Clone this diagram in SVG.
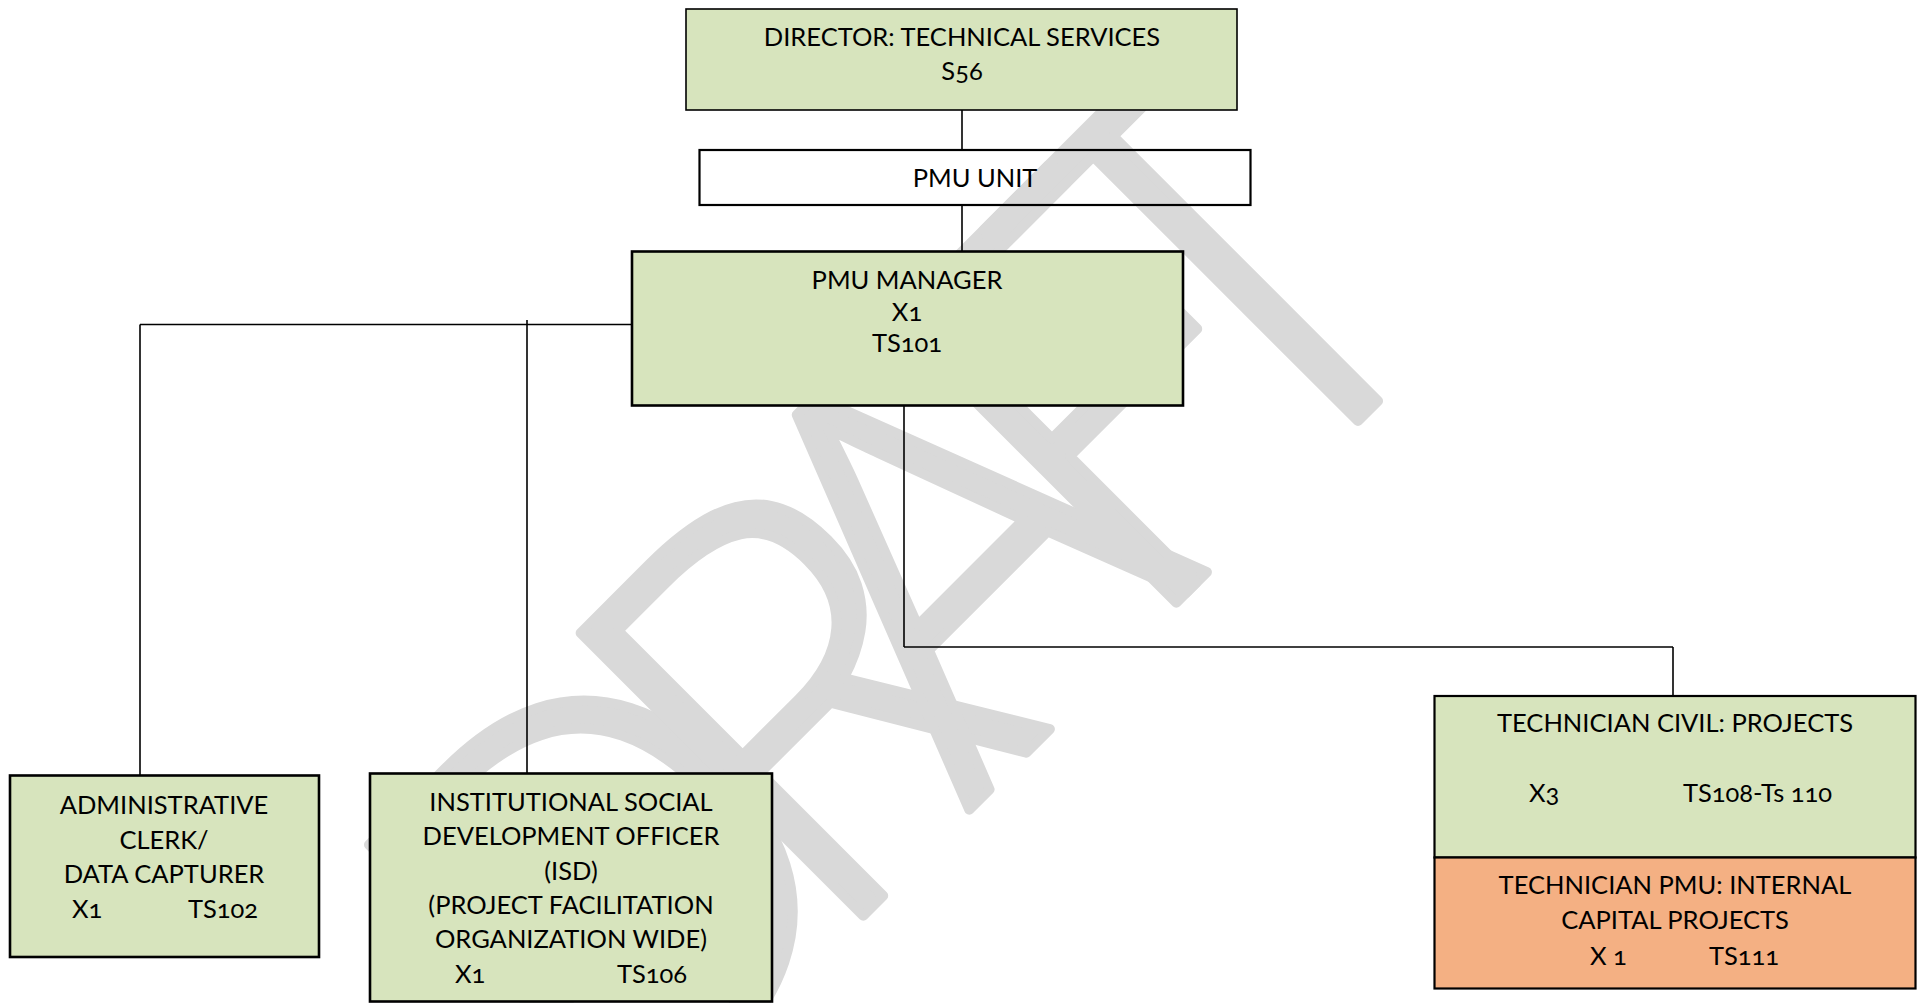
<svg xmlns="http://www.w3.org/2000/svg" width="1921" height="1003" viewBox="0 0 1921 1003">
<style>
.box{fill:#d7e4bd;stroke:#000;stroke-width:2.2}
.org{fill:#f4b083;stroke:#000;stroke-width:2.2}
.open{fill:none;stroke:#000;stroke-width:2.2}
.t{font-family:Lato,"Open Sans",sans-serif;font-size:25.5px;fill:#000;text-anchor:middle;font-variant-numeric:oldstyle-nums}
.s{text-anchor:start}
.c{fill:none;stroke:#000;stroke-width:1.6}
.wm{font-family:"Open Sans","Noto Sans",sans-serif;font-size:560px;font-weight:300;fill:#d9d9d9;stroke:#d9d9d9;stroke-width:10;stroke-linejoin:round;text-anchor:middle}
</style>
<rect width="1921" height="1003" fill="#fff"/>
<text class="wm" transform="translate(889.5,889.5) rotate(-45)" x="-195 73 281 490 677" y="0">DRAFT</text>
<g id="connectors">
<line class="c" x1="962" y1="110" x2="962" y2="150"/>
<line class="c" x1="962" y1="205" x2="962" y2="253"/>
<line class="c" x1="140" y1="324.5" x2="632" y2="324.5"/>
<line class="c" x1="140" y1="324.5" x2="140" y2="775"/>
<line class="c" x1="527" y1="320" x2="527" y2="773"/>
<line class="c" x1="904" y1="402" x2="904" y2="647"/>
<line class="c" x1="904" y1="647" x2="1673" y2="647"/>
<line class="c" x1="1673" y1="647" x2="1673" y2="697"/>
</g>
<g id="director">
<rect class="box" x="686" y="9" width="551" height="101" style="stroke-width:1.6"/>
<text class="t" x="962" y="46">DIRECTOR: TECHNICAL SERVICES</text>
<text class="t" x="962" y="80">S56</text>
</g>
<g id="pmu-unit">
<rect class="open" x="699.5" y="150" width="551" height="55"/>
<text class="t" x="975" y="187">PMU UNIT</text>
</g>
<g id="pmu-manager">
<rect class="box" x="632" y="251.5" width="551" height="154" style="stroke-width:2.6"/>
<text class="t" x="907" y="289">PMU MANAGER</text>
<text class="t" x="907" y="321">X1</text>
<text class="t" x="907" y="352">TS101</text>
</g>
<g id="admin-clerk">
<rect class="box" x="10" y="775.5" width="309" height="181.5" style="stroke-width:2.6"/>
<text class="t" x="164" y="814">ADMINISTRATIVE</text>
<text class="t" x="164" y="849">CLERK/</text>
<text class="t" x="164" y="883">DATA CAPTURER</text>
<text class="t s" x="72" y="918">X1</text>
<text class="t s" x="188" y="918">TS102</text>
</g>
<g id="isd-officer">
<rect class="box" x="370" y="773.5" width="402" height="228" style="stroke-width:2.6"/>
<text class="t" x="571" y="811">INSTITUTIONAL SOCIAL</text>
<text class="t" x="571" y="845">DEVELOPMENT OFFICER</text>
<text class="t" x="571" y="880">(ISD)</text>
<text class="t" x="571" y="914">(PROJECT FACILITATION</text>
<text class="t" x="571" y="948">ORGANIZATION WIDE)</text>
<text class="t s" x="455" y="983">X1</text>
<text class="t s" x="617" y="983">TS106</text>
</g>
<g id="technician-civil">
<rect class="box" x="1434.5" y="696" width="481" height="161.5"/>
<text class="t" x="1675" y="732">TECHNICIAN CIVIL: PROJECTS</text>
<text class="t s" x="1529" y="802">X3</text>
<text class="t s" x="1683" y="802">TS108-Ts 110</text>
</g>
<g id="technician-pmu">
<rect class="org" x="1434.5" y="857.5" width="481" height="131"/>
<text class="t" x="1675" y="894">TECHNICIAN PMU: INTERNAL</text>
<text class="t" x="1675" y="929">CAPITAL PROJECTS</text>
<text class="t s" x="1590" y="965">X 1</text>
<text class="t s" x="1709" y="965">TS111</text>
</g>
</svg>
